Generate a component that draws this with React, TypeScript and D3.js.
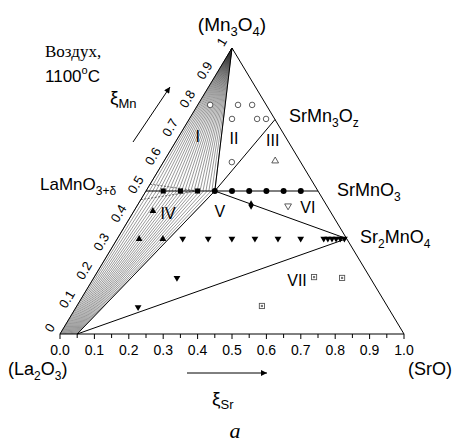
import React from 'react'
import * as d3 from 'd3'

// ternary coordinates: s = xi_Sr (bottom), m = xi_Mn (left)
const sqRowS = [0.05, 0.1, 0.15] // filled squares, m = 0.5
const dotRowS = [0.2, 0.25, 0.3, 0.35, 0.4, 0.45] // filled circles, m = 0.5
const triRowS = [0.19, 0.264, 0.333, 0.4, 0.467, 0.533, 0.6, 0.612, 0.624, 0.636, 0.648, 0.66] // m = 1/3
const triDownExtra = [[0.242, 0.196], [0.18, 0.094]]
const triUp = [[0.055, 0.43], [0.064, 0.332], [0.133, 0.332]]
const openCircles = [[0.036, 0.801], [0.117, 0.801], [0.158, 0.801], [0.124, 0.752], [0.197, 0.752], [0.223, 0.752], [0.199, 0.601]]
const openTriUp = [[0.323, 0.605]]
const openTriDown = [[0.439, 0.448]]
const diamonds = [[0.33, 0.451]]
const boxed = [[0.639, 0.199], [0.722, 0.196], [0.538, 0.098]]

const bottomTicks = d3.range(0, 1.0001, 0.05)
const leftTicks = d3.range(0, 1.0001, 0.1)

const regionLabels = [
  {t: 'I', s: 0.058, m: 0.685}, {t: 'II', s: 0.167, m: 0.678}, {t: 'III', s: 0.283, m: 0.671},
  {t: 'IV', s: 0.106, m: 0.416}, {t: 'V', s: 0.253, m: 0.423}, {t: 'VI', s: 0.502, m: 0.437},
  {t: 'VII', s: 0.598, m: 0.182},
]

const xS = d3.scaleLinear().domain([0, 1]).range([60, 404])
const yM = d3.scaleLinear().domain([0, 1]).range([334, 48])
const proj = (s: number, m: number): [number, number] => [xS(s + m / 2), yM(m)]

const LaMn = [0, 0.5], SrMnO3 = [0.5, 0.5], Junction = [0.2, 0.5]
const SrMn3Oz = [0.25, 0.75], Sr2MnO4 = [2 / 3, 1 / 3], BaseP = [0.05, 0]

// point along a polyline (screen coords) at fraction t
function along(pts: [number, number][], t: number): [number, number] {
  const segs = d3.pairs(pts).map(([a, b]) => Math.hypot(b[0] - a[0], b[1] - a[1]))
  let d = t * d3.sum(segs)
  for (let i = 0; i < segs.length; i++) {
    if (d <= segs[i] || i === segs.length - 1) {
      const k = segs[i] ? d / segs[i] : 0
      const a = pts[i], b = pts[i + 1]
      return [a[0] + (b[0] - a[0]) * k, a[1] + (b[1] - a[1]) * k]
    }
    d -= segs[i]
  }
  return pts[pts.length - 1]
}
const toRow = (a: [number, number], b: [number, number]): [number, number] => {
  const yr = yM(0.5)
  const k = (yr - a[1]) / (b[1] - a[1])
  return [a[0] + (b[0] - a[0]) * k, yr]
}

const font = 'Arial, "Liberation Sans", sans-serif'
const serif = '"Times New Roman", "Liberation Serif", serif'

function sym(type: any, size: number) {
  return d3.symbol().type(type).size(size)() as string
}

export default function App() {
  const apex = proj(0, 1)
  const upperLens: [number, number][] = [proj(0, 0.524), proj(0.15, 0.5), proj(0.2, 0.5)]
  const lowerLens: [number, number][] = [proj(0, 0.47), proj(0.15, 0.5), proj(0.2, 0.5)]
  const fanI = d3.range(0, 23).map(i => {
    const b = along(upperLens, i / 22)
    return [apex, i / 22 > 0.75 ? b : toRow(apex, b)]
  })
  const fanIV = d3.range(0, 21).map(i => {
    const t = i / 20
    const a = proj(0.05 * t, 0)
    const b = along(lowerLens, t)
    return [a, t > 0.75 ? b : toRow(a, b)]
  })
  const lines = [
    [proj(0, 0), proj(1, 0)], [proj(1, 0), proj(0, 1)], [proj(0, 1), proj(0, 0)],
    [proj(LaMn[0], LaMn[1]), proj(SrMnO3[0], SrMnO3[1])],
    [apex, proj(Junction[0], Junction[1])],
    [proj(SrMn3Oz[0], SrMn3Oz[1]), proj(Junction[0], Junction[1])],
    [proj(Junction[0], Junction[1]), proj(Sr2MnO4[0], Sr2MnO4[1])],
    [proj(BaseP[0], BaseP[1]), proj(Sr2MnO4[0], Sr2MnO4[1])],
  ]
  const edgeAng = Math.atan2(yM(1) - yM(0), xS(0.5) - xS(0)) * 180 / Math.PI
  const nx = -Math.sin(-edgeAng * Math.PI / 180), ny = -Math.cos(-edgeAng * Math.PI / 180)
  const tri = sym(d3.symbolTriangle, 20)
  const circ = sym(d3.symbolCircle, 28)
  const ocirc = sym(d3.symbolCircle, 24)
  const sq = sym(d3.symbolSquare, 26)
  const dia = sym(d3.symbolDiamond, 26)

  return (
    <svg width={464} height={442} style={{display: 'block', position: 'absolute', left: 0, top: 0}}>
      <defs>
        <marker id="ah" viewBox="0 0 10 10" refX="10" refY="5" markerWidth="7" markerHeight="6" orient="auto" markerUnits="userSpaceOnUse">
          <path d="M0,0 L10,5 L0,10 z" fill="#000" />
        </marker>
      </defs>
      <rect width={464} height={442} fill="#fff" />
      {fanI.map((l, i) => <line key={'f1' + i} x1={l[0][0]} y1={l[0][1]} x2={l[1][0]} y2={l[1][1]} stroke="#333" strokeWidth={0.5} />)}
      {fanIV.map((l, i) => <line key={'f4' + i} x1={l[0][0]} y1={l[0][1]} x2={l[1][0]} y2={l[1][1]} stroke="#333" strokeWidth={0.5} />)}
      <path d={d3.line()(upperLens.slice(0, 2)) as string} stroke="#444" strokeWidth={0.8} strokeDasharray="2,1.5" fill="none" />
      <path d={d3.line()(lowerLens.slice(0, 2)) as string} stroke="#444" strokeWidth={0.8} strokeDasharray="2,1.5" fill="none" />
      <line x1={fanIV[20][0][0]} y1={fanIV[20][0][1]} x2={proj(0.2, 0.5)[0]} y2={proj(0.2, 0.5)[1]} stroke="#000" strokeWidth={0.9} />
      {lines.map((l, i) => <line key={'l' + i} x1={l[0][0]} y1={l[0][1]} x2={l[1][0]} y2={l[1][1]} stroke="#000" strokeWidth={1} />)}

      {bottomTicks.map((t, i) => (
        <line key={'bt' + i} x1={xS(t)} x2={xS(t)} y1={334} y2={334 + (i % 2 === 0 ? 5 : 4)} stroke="#000" strokeWidth={1} />
      ))}
      {bottomTicks.filter((_, i) => i % 2 === 0).map((t, i) => (
        <text key={'bl' + i} x={xS(t)} y={355} textAnchor="middle" fontFamily={font} fontSize={14}>{d3.format('.1f')(t)}</text>
      ))}
      {leftTicks.map((t, i) => {
        const [px, py] = proj(0, t)
        const lx = px + nx * 11, ly = py + ny * 11
        const lab = i === 0 ? '0' : i === 10 ? '1' : d3.format('.1f')(t)
        return <text key={'ll' + i} x={lx} y={ly} textAnchor="middle" dominantBaseline="middle" fontFamily={font} fontSize={13}
          transform={`rotate(${edgeAng},${lx},${ly})`}>{lab}</text>
      })}

      {sqRowS.map((s, i) => <path key={'sq' + i} d={sq} transform={`translate(${proj(s, 0.5)})`} fill="#000" />)}
      {dotRowS.map((s, i) => <path key={'dc' + i} d={circ} transform={`translate(${proj(s, 0.5)})`} fill="#000" />)}
      {triRowS.map((s, i) => <path key={'tr' + i} d={tri} transform={`translate(${proj(s, 1 / 3)}) rotate(180)`} fill="#000" />)}
      {triDownExtra.map((p, i) => <path key={'td' + i} d={tri} transform={`translate(${proj(p[0], p[1])}) rotate(180)`} fill="#000" />)}
      {triUp.map((p, i) => <path key={'tu' + i} d={tri} transform={`translate(${proj(p[0], p[1])})`} fill="#000" />)}
      {openCircles.map((p, i) => <path key={'oc' + i} d={ocirc} transform={`translate(${proj(p[0], p[1])})`} fill="#fff" stroke="#333" strokeWidth={0.8} />)}
      {openTriUp.map((p, i) => <path key={'ou' + i} d={tri} transform={`translate(${proj(p[0], p[1])})`} fill="#fff" stroke="#333" strokeWidth={0.8} />)}
      {openTriDown.map((p, i) => <path key={'od' + i} d={tri} transform={`translate(${proj(p[0], p[1])}) rotate(180)`} fill="#fff" stroke="#333" strokeWidth={0.8} />)}
      {diamonds.map((p, i) => <path key={'dm' + i} d={dia} transform={`translate(${proj(p[0], p[1])})`} fill="#000" />)}
      {boxed.map((p, i) => {
        const [px, py] = proj(p[0], p[1])
        return <g key={'bx' + i}>
          <rect x={px - 2.6} y={py - 2.6} width={5.2} height={5.2} fill="#fff" stroke="#555" strokeWidth={0.9} />
          <rect x={px - 1.1} y={py - 1.1} width={2.2} height={2.2} fill="#777" />
        </g>
      })}

      {regionLabels.map((r, i) => {
        const [px, py] = proj(r.s, r.m)
        return <text key={'rl' + i} x={px} y={py} textAnchor="middle" dominantBaseline="middle" fontFamily={font} fontSize={16}>{r.t}</text>
      })}

      <g fontFamily={font} fill="#000">
        <text x={232} y={31} textAnchor="middle" fontSize={19}>(Mn<tspan fontSize={13} dy={5}>3</tspan><tspan dy={-5}>O</tspan><tspan fontSize={13} dy={5}>4</tspan><tspan dy={-5}>)</tspan></text>
        <text x={45} y={57} fontFamily={serif} fontSize={17}>Воздух,</text>
        <text x={45} y={82} fontSize={17}>1100<tspan fontSize={11} dy={-8}>o</tspan><tspan dy={8}>C</tspan></text>
        <text x={110} y={104} fontSize={19}>ξ<tspan fontSize={13} dy={4}>Mn</tspan></text>
        <line x1={133} y1={142} x2={170} y2={87} stroke="#000" strokeWidth={1} markerEnd="url(#ah)" />
        <text x={40} y={190} fontSize={17}>LaMnO<tspan fontSize={12} dy={5}>3+δ</tspan></text>
        <text x={289} y={122} fontSize={18}>SrMn<tspan fontSize={12} dy={5}>3</tspan><tspan dy={-5}>O</tspan><tspan fontSize={12} dy={5}>z</tspan></text>
        <text x={337} y={196} fontSize={18}>SrMnO<tspan fontSize={12} dy={5}>3</tspan></text>
        <text x={360} y={243} fontSize={18}>Sr<tspan fontSize={12} dy={5}>2</tspan><tspan dy={-5}>MnO</tspan><tspan fontSize={12} dy={5}>4</tspan></text>
        <text x={8} y={375} fontSize={18}>(La<tspan fontSize={12} dy={5}>2</tspan><tspan dy={-5}>O</tspan><tspan fontSize={12} dy={5}>3</tspan><tspan dy={-5}>)</tspan></text>
        <text x={408} y={375} fontSize={18}>(SrO)</text>
        <line x1={187} y1={373} x2={267} y2={373} stroke="#000" strokeWidth={1} markerEnd="url(#ah)" />
        <text x={212} y={405} fontSize={19}>ξ<tspan fontSize={13} dy={4}>Sr</tspan></text>
        <text x={235} y={438} textAnchor="middle" fontFamily={serif} fontStyle="italic" fontSize={22}>a</text>
      </g>
    </svg>
  )
}
